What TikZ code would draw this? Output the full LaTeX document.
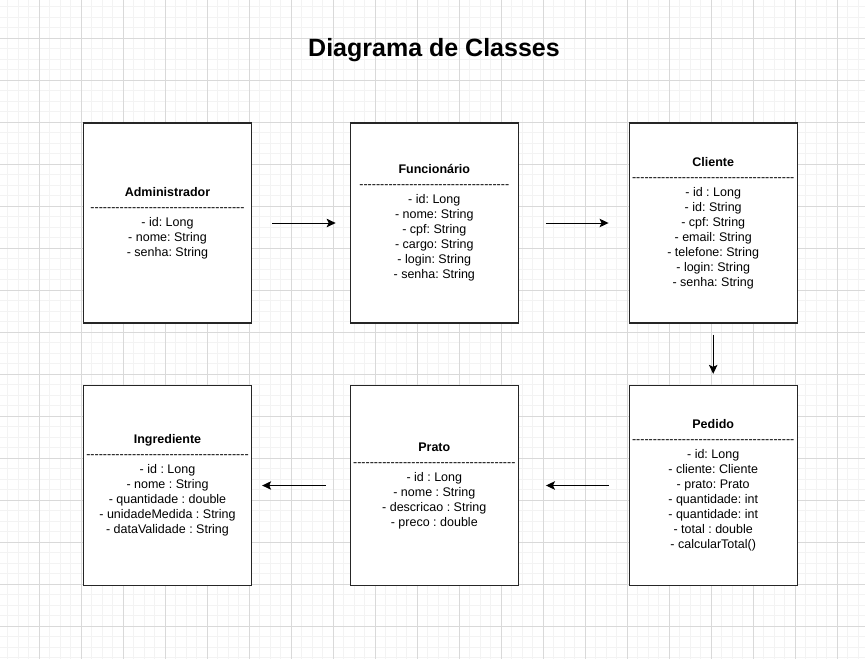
\documentclass[tikz,border=0pt]{standalone}
\usepackage{fontspec}
\setmainfont{Liberation Sans}
\usetikzlibrary{arrows.meta}
\definecolor{gridminor}{HTML}{F3F3F3}
\definecolor{gridmajor}{HTML}{D9D9D9}
\newcommand{\dashrow}[1]{\foreach \i in {1,...,#1}{-\kern0pt}}
\frenchspacing
\tikzset{
  classbox/.style={draw=black!85, line width=1.3pt, fill=white,
    minimum width=168pt, minimum height=200pt, inner sep=0pt,
    align=center, font=\fontsize{12.5}{15}\selectfont\frenchspacing},
  assoc/.style={-{Stealth[length=9pt,width=8.5pt,inset=2pt]}, line width=1pt}
}
\begin{document}
\begin{tikzpicture}[x=1pt, y=-1pt]
        \useasboundingbox (0,0) rectangle (865,659);
        \fill[white] (0,0) rectangle (865,659);
        % grid
        \foreach \x in {-2.7,7.8,...,866}
        \draw[gridminor, line width=1pt] (\x,0) -- (\x,659);
        \foreach \y in {-3.7,6.8,...,660}
        \draw[gridminor, line width=1pt] (0,\y) -- (865,\y);
        \foreach \x in {39.3,81.3,...,866}
        \draw[gridmajor, line width=1pt] (\x,0) -- (\x,659);
        \foreach \y in {38.3,80.3,...,660}
        \draw[gridmajor, line width=1pt] (0,\y) -- (865,\y);

        \node[font=\bfseries\fontsize{25}{30}\selectfont] (title) at (434,50) {Diagrama de Classes};

        % classes
        \node[classbox] (adm) at (167.5,223) {\textbf{Administrador}\\\dashrow{37}\\
        - id: Long\\- nome: String\\- senha: String};
        \node[classbox] (func) at (434.3,223) {\textbf{Funcionário}\\\dashrow{36}\\
        - id: Long\\- nome: String\\- cpf: String\\- cargo: String\\- login: String\\- senha: String};
        \node[classbox] (cli) at (713.2,223) {\textbf{Cliente}\\\dashrow{39}\\
        - id : Long\\- id: String\\- cpf: String\\- email: String\\- telefone: String\\- login: String\\- senha: String};
        \node[classbox] (ped) at (713.2,485.5) {\textbf{Pedido}\\\dashrow{39}\\
        - id: Long\\- cliente: Cliente\\- prato: Prato\\- quantidade: int\\- quantidade: int\\- total : double\\- calcularTotal()};
        \node[classbox] (prato) at (434.3,485.5) {\textbf{Prato}\\\dashrow{39}\\
        - id : Long\\- nome : String\\- descricao : String\\- preco : double};
        \node[classbox] (ingr) at (167.5,485.5) {\textbf{Ingrediente}\\\dashrow{39}\\
        - id : Long\\- nome : String\\- quantidade : double\\- unidadeMedida : String\\- dataValidade : String};

        % connectors
        \draw[assoc, shorten <=20pt, shorten >=14pt] (adm.east) -- (func.west);
        \draw[assoc, shorten <=27pt, shorten >=20pt] (func.east) -- (cli.west);
        \draw[assoc, shorten <=11pt, shorten >=11pt] (cli.south) -- (ped.north);
        \draw[assoc, shorten <=20pt, shorten >=27pt] (ped.west) -- (prato.east);
        \draw[assoc, shorten <=24pt, shorten >=10pt] (prato.west) -- (ingr.east);
\end{tikzpicture}
\end{document}
